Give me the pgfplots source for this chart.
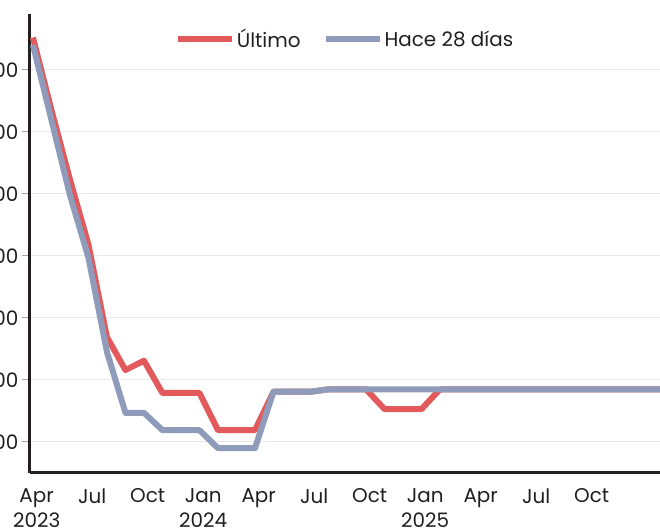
\documentclass[border=0pt]{standalone}
\usepackage{fontspec}
\setmainfont{Poppins}
\usepackage{pgfplots}
\pgfplotsset{compat=1.18}
\definecolor{redline}{RGB}{226,90,92}
\definecolor{blueline}{RGB}{143,155,187}
\definecolor{axisdark}{RGB}{35,31,32}
\definecolor{gridgray}{RGB}{232,232,232}
\definecolor{tickgray}{RGB}{165,165,165}
\definecolor{textdark}{RGB}{34,30,32}
\begin{document}
\begin{tikzpicture}
\begin{axis}[
  scale only axis,
  width=630bp, height=459bp,
  xmin=-0.16, xmax=33.89,
  ymin=50, ymax=790,
  axis x line=bottom, axis y line=left,
  axis line style={-, line width=3bp, color=axisdark},
  ytick={100,200,300,400,500,600,700},
  ymajorgrids, grid style={gridgray, line width=1bp},
  tick align=outside,
  major tick length=8bp,
  ytick style={tickgray, line width=1bp},
  xtick style={draw=none},
  xtick={0.2,3.2,6.2,9.2,12.2,15.2,18.2,21.2,24.2,27.2,30.2},
  xticklabels={Apr\\2023,Jul,Oct,Jan\\2024,Apr,Jul,Oct,Jan\\2025,Apr,Jul,Oct},
  xticklabel style={align=center, font=\fontsize{20}{25}\selectfont, text=textdark, anchor=north, yshift=-4bp},
  yticklabel style={font=\fontsize{20}{25}\selectfont, text=textdark},
  /pgf/number format/assume math mode=true,
  legend style={at={(0.5,1)}, anchor=north, yshift=-11bp, draw=none, fill=none,
    legend columns=-1, font=\fontsize{20}{25}\selectfont, text=textdark,
    /tikz/every even column/.append style={column sep=20bp}},
  legend image code/.code={\draw[#1] (0bp,0bp) -- (54bp,0bp);},
  line join=round,
]
\addplot[redline, line width=6bp] coordinates {
(0,752)(1,635)(2,523)(3,418)(4,269)(5,216)(6,231)(7,179)(8,179)(9,179)
(10,119)(11,119)(12,119)(13,181)(14,181)(15,181)(16,185)(17,185)(18,185)
(19,153)(20,153)(21,153)(22,185)(23,185)(24,185)(25,185)(26,185)(27,185)
(28,185)(29,185)(30,185)(31,185)(32,185)(33,185)(34,185)};
\addlegendentry{Último}
\addplot[blueline, line width=6bp] coordinates {
(0,740)(1,619)(2,498)(3,397)(4,245)(5,147)(6,147)(7,119)(8,119)(9,119)
(10,90)(11,90)(12,90)(13,181)(14,181)(15,181)(16,185)(17,185)(18,185)
(19,185)(20,185)(21,185)(22,185)(23,185)(24,185)(25,185)(26,185)(27,185)
(28,185)(29,185)(30,185)(31,185)(32,185)(33,185)(34,185)};
\addlegendentry{Hace 28 días}
\coordinate (bl) at (rel axis cs:0,0);
\coordinate (tr) at (rel axis cs:1,1);
\end{axis}
\pgfresetboundingbox
\path[use as bounding box] ([xshift=-30bp,yshift=-56bp]bl) rectangle ([yshift=14bp]tr);
\end{tikzpicture}
\end{document}
